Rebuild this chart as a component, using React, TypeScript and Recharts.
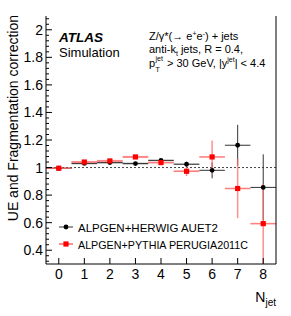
import React from 'react';
import {
  ComposedChart,
  Scatter,
  ErrorBar,
  XAxis,
  YAxis,
  ReferenceLine,
  ReferenceArea,
} from 'recharts';

// jet multiplicity bins
const N_JET = [0, 1, 2, 3, 4, 5, 6, 7, 8];

// ALPGEN+HERWIG AUET2
const HERWIG = [0.995, 1.03, 1.036, 1.029, 1.052, 1.024, 0.98, 1.162, 0.856];
const HERWIG_ERR = [0.004, 0.006, 0.006, 0.006, 0.008, 0.018, 0.058, 0.148, 0.24];
const HERWIG_SYS = [0.003, 0.008, 0.008, 0.008, 0.006, 0.005, 0, 0, 0];

// ALPGEN+PYTHIA PERUGIA2011C
const PYTHIA = [0.995, 1.04, 1.048, 1.077, 1.036, 0.973, 1.077, 0.848, 0.593];
const PYTHIA_ERR = [0.004, 0.008, 0.008, 0.01, 0.015, 0.035, 0.12, 0.215, 0.29];
const PYTHIA_SYS = [0.003, 0.008, 0.008, 0.008, 0.006, 0.006, 0.004, 0.004, 0.004];

const X_TICKS = [0, 1, 2, 3, 4, 5, 6, 7, 8];
const Y_MAJOR = [0.4, 0.6, 0.8, 1, 1.2, 1.4, 1.6, 1.8, 2];
const Y_MINOR = [
  0.32, 0.36, 0.44, 0.48, 0.52, 0.56, 0.64, 0.68, 0.72, 0.76, 0.84, 0.88,
  0.92, 0.96, 1.04, 1.08, 1.12, 1.16, 1.24, 1.28, 1.32, 1.36, 1.44, 1.48,
  1.52, 1.56, 1.64, 1.68, 1.72, 1.76, 1.84, 1.88, 1.92, 1.96, 2.04, 2.08,
];
const Y_TICKS = [...Y_MAJOR, ...Y_MINOR].sort((a, b) => a - b);

const W = 291;
const H = 316;
const FONT = '"Liberation Sans", Arial, Helvetica, sans-serif';

const herwigData = N_JET.map((n, i) => ({ n, v: HERWIG[i], ex: 0.5, ey: HERWIG_ERR[i] }));
const pythiaData = N_JET.map((n, i) => ({ n, v: PYTHIA[i], ex: 0.5, ey: PYTHIA_ERR[i] }));

const isMajor = (v: number) => Y_MAJOR.some((m) => Math.abs(m - v) < 1e-6);

const fmt = (v: number) => String(Math.round(v * 10) / 10);

// ticks point inwards, like ROOT does
const LeftTick = (props: any) => {
  const { x, y, payload } = props;
  const major = isMajor(payload.value);
  return (
    <g>
      <line x1={x} x2={x + (major ? 6 : 3)} y1={y} y2={y} stroke="#000" />
      {major && (
        <text x={x - 3} y={y + 5} textAnchor="end" fontSize={14} fontFamily={FONT} fill="#000">
          {fmt(payload.value)}
        </text>
      )}
    </g>
  );
};

const RightTick = (props: any) => {
  const { x, y, payload } = props;
  const major = isMajor(payload.value);
  return <line x1={x} x2={x - (major ? 6 : 3)} y1={y} y2={y} stroke="#000" />;
};

const BottomTick = (props: any) => {
  const { x, y, payload } = props;
  return (
    <g>
      <line x1={x} x2={x} y1={y} y2={y - 6} stroke="#000" />
      <text x={x} y={y + 15} textAnchor="middle" fontSize={14} fontFamily={FONT} fill="#000">
        {payload.value}
      </text>
    </g>
  );
};

const TopTick = (props: any) => {
  const { x, y } = props;
  return <line x1={x} x2={x} y1={y} y2={y + 6} stroke="#000" />;
};

const Dot = (props: any) => <circle cx={props.cx} cy={props.cy} r={2.4} fill="#000" />;
const Square = (props: any) => (
  <rect x={props.cx - 2.6} y={props.cy - 2.6} width={5.2} height={5.2} fill="#ff0000" />
);

export default function App() {
  return (
    <div style={{ position: 'absolute', left: 0, top: 0, width: W, height: H, background: '#fff' }}>
      <ComposedChart width={W} height={H} margin={{ top: 16, right: 0, bottom: 0, left: 0 }}>
        <XAxis
          xAxisId="b"
          type="number"
          dataKey="n"
          domain={[-0.5, 8.5]}
          ticks={X_TICKS}
          interval={0}
          allowDataOverflow
          height={52}
          tickSize={0}
          tickMargin={0}
          tickLine={false}
          tick={<BottomTick />}
          axisLine={{ stroke: '#000' }}
        />
        <XAxis
          xAxisId="t"
          orientation="top"
          type="number"
          domain={[-0.5, 8.5]}
          ticks={X_TICKS}
          interval={0}
          height={0}
          tickSize={0}
          tickMargin={0}
          tickLine={false}
          tick={<TopTick />}
          axisLine={{ stroke: '#000' }}
        />
        <YAxis
          yAxisId="l"
          type="number"
          domain={[0.3, 2.1]}
          ticks={Y_TICKS}
          interval={0}
          allowDataOverflow
          width={46}
          tickSize={0}
          tickMargin={0}
          tickLine={false}
          tick={<LeftTick />}
          axisLine={{ stroke: '#000' }}
        />
        <YAxis
          yAxisId="r"
          orientation="right"
          type="number"
          domain={[0.3, 2.1]}
          ticks={Y_TICKS}
          interval={0}
          width={15}
          tickSize={0}
          tickMargin={0}
          tickLine={false}
          tick={<RightTick />}
          axisLine={{ stroke: '#000' }}
        />

        {N_JET.map((n, i) =>
          HERWIG_SYS[i] > 0 ? (
            <ReferenceArea
              key={`hs-${n}`}
              xAxisId="b"
              yAxisId="l"
              x1={n - 0.5}
              x2={n + 0.5}
              y1={HERWIG[i] - HERWIG_SYS[i]}
              y2={HERWIG[i] + HERWIG_SYS[i]}
              fill="#b0b0b0"
              fillOpacity={0.8}
              stroke="none"
              ifOverflow="hidden"
            />
          ) : null
        )}
        {N_JET.map((n, i) => (
          <ReferenceArea
            key={`ps-${n}`}
            xAxisId="b"
            yAxisId="l"
            x1={n - 0.5}
            x2={n + 0.5}
            y1={PYTHIA[i] - PYTHIA_SYS[i]}
            y2={PYTHIA[i] + PYTHIA_SYS[i]}
            fill="#ff9a9a"
            fillOpacity={0.7}
            stroke="none"
            ifOverflow="hidden"
          />
        ))}

        <ReferenceLine xAxisId="b" yAxisId="l" y={1} stroke="#444" strokeDasharray="2 2" />

        <Scatter
          name="ALPGEN+HERWIG AUET2"
          data={herwigData}
          xAxisId="b"
          yAxisId="l"
          dataKey="v"
          shape={<Dot />}
          isAnimationActive={false}
        >
          <ErrorBar dataKey="ex" direction="x" width={0} stroke="#333" strokeWidth={1} />
          <ErrorBar dataKey="ey" direction="y" width={0} stroke="#333" strokeWidth={1} />
        </Scatter>
        <Scatter
          name="ALPGEN+PYTHIA PERUGIA2011C"
          data={pythiaData}
          xAxisId="b"
          yAxisId="l"
          dataKey="v"
          shape={<Square />}
          isAnimationActive={false}
        >
          <ErrorBar dataKey="ex" direction="x" width={0} stroke="#ff6a6a" strokeWidth={1.5} strokeOpacity={0.75} />
          <ErrorBar dataKey="ey" direction="y" width={0} stroke="#ff6a6a" strokeWidth={1.5} strokeOpacity={0.75} />
        </Scatter>
      </ComposedChart>

      <svg
        width={W}
        height={H}
        style={{ position: 'absolute', left: 0, top: 0, pointerEvents: 'none' }}
        fontFamily={FONT}
      >
        <text x={17.5} y={15} transform="rotate(-90 17.5 15)" textAnchor="end" fontSize={14} fill="#000">
          UE and Fragmentation correction
        </text>
        <text x={276} y={302} textAnchor="end" fontSize={14} fill="#000">
          N<tspan fontSize={10} dy={4}>jet</tspan>
        </text>

        <text x={59} y={41.5} fontSize={13.5} fontWeight="bold" fontStyle="italic" fill="#000">
          ATLAS
        </text>
        <text x={59} y={57} fontSize={13} fill="#000">
          Simulation
        </text>

        <text x={149} y={39.5} fontSize={11} fill="#000">
          Z/γ*(→ e<tspan fontSize={7} dy={-4}>+</tspan>
          <tspan dy={4}>e</tspan>
          <tspan fontSize={7} dy={-4}>-</tspan>
          <tspan dy={4}>) + jets</tspan>
        </text>
        <text x={149} y={53} fontSize={11} fill="#000">
          anti-k<tspan fontSize={7} dy={3}>t</tspan>
          <tspan dy={-3}> jets, R = 0.4,</tspan>
        </text>
        <text x={149} y={67} fontSize={11} fill="#000">
          p
        </text>
        <text x={155.5} y={61} fontSize={7} fill="#000">
          jet
        </text>
        <text x={155.5} y={71.5} fontSize={7} fill="#000">
          T
        </text>
        <text x={167} y={67} fontSize={11} fill="#000">
          &gt; 30 GeV, |y<tspan fontSize={7} dy={-5}>jet</tspan>
          <tspan dy={5}>| &lt; 4.4</tspan>
        </text>

        <line x1={59} x2={73} y1={227} y2={227} stroke="#333" />
        <circle cx={66} cy={227} r={2.4} fill="#000" />
        <text x={78} y={231.5} fontSize={11.8} textLength={140} lengthAdjust="spacingAndGlyphs" fill="#000">
          ALPGEN+HERWIG AUET2
        </text>
        <line x1={59} x2={73} y1={244} y2={244} stroke="#ff6a6a" strokeWidth={1.5} />
        <rect x={63.4} y={241.4} width={5.2} height={5.2} fill="#ff0000" />
        <text x={78} y={248.5} fontSize={11.8} textLength={170} lengthAdjust="spacingAndGlyphs" fill="#000">
          ALPGEN+PYTHIA PERUGIA2011C
        </text>
      </svg>
    </div>
  );
}
